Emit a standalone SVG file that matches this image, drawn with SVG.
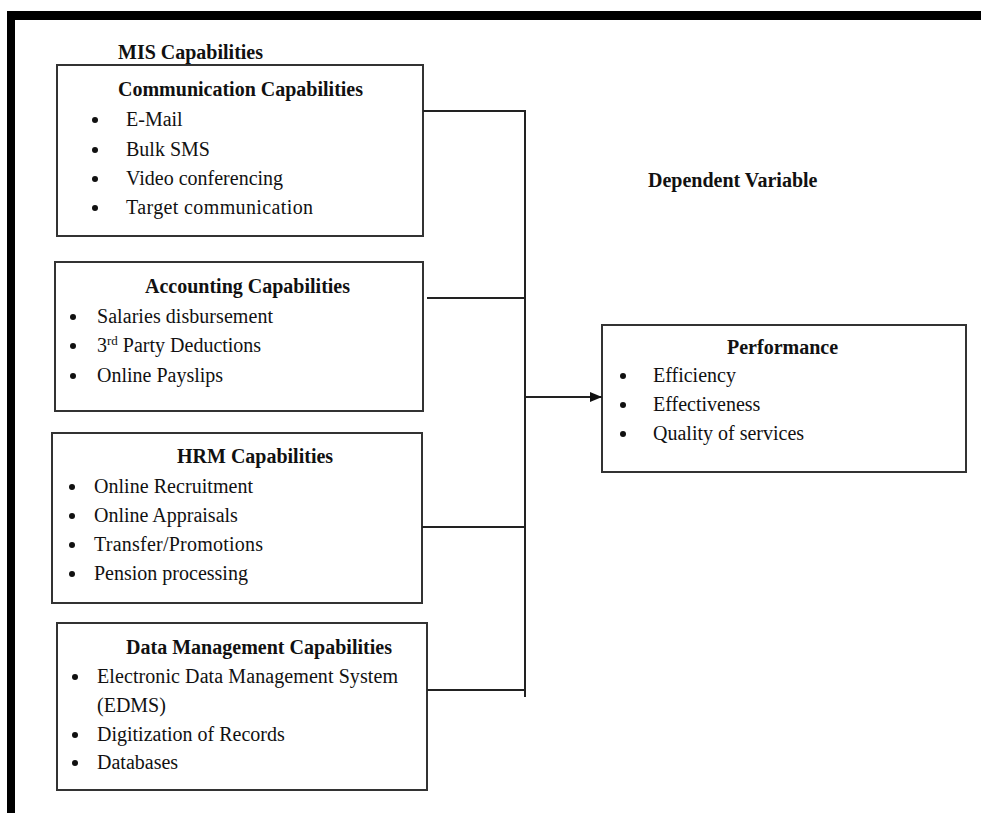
<svg xmlns="http://www.w3.org/2000/svg" width="981" height="813" viewBox="0 0 981 813">
<style>
.box{fill:#fff;stroke:#333;stroke-width:2}
.h{font-family:"Liberation Serif","Times New Roman",serif;font-weight:bold;font-size:20px;fill:#111}
.t{font-family:"Liberation Serif","Times New Roman",serif;font-size:20px;fill:#111}
.b{fill:#111}
.c{fill:none;stroke:#222;stroke-width:2}
</style>
<defs>
<marker id="arr" viewBox="0 0 12 10" refX="12" refY="5" markerWidth="12" markerHeight="10" markerUnits="userSpaceOnUse" orient="auto">
<path d="M0,0 L12,5 L0,10 Z" fill="#111"/>
</marker>
</defs>
<rect width="981" height="813" fill="#fff"/>
<rect x="7" y="11" width="974" height="9" fill="#000"/>
<rect x="7" y="11" width="8" height="802" fill="#000"/>

<text class="h" x="118" y="59">MIS Capabilities</text>
<text class="h" x="648" y="187">Dependent Variable</text>

<g id="communication">
<rect class="box" x="57" y="65" width="366" height="171"/>
<text class="h" x="118" y="96">Communication Capabilities</text>
<circle class="b" cx="95" cy="120" r="3"/>
<circle class="b" cx="95" cy="150" r="3"/>
<circle class="b" cx="95" cy="179" r="3"/>
<circle class="b" cx="95" cy="208" r="3"/>
<text class="t" x="126" y="126">E-Mail</text>
<text class="t" x="126" y="156">Bulk SMS</text>
<text class="t" x="126" y="185">Video conferencing</text>
<text class="t" x="126" y="214" textLength="187" lengthAdjust="spacing">Target communication</text>
</g>

<g id="accounting">
<rect class="box" x="55" y="262" width="368" height="149"/>
<text class="h" x="145" y="293">Accounting Capabilities</text>
<circle class="b" cx="73" cy="317" r="3"/>
<circle class="b" cx="73" cy="346" r="3"/>
<circle class="b" cx="73" cy="376" r="3"/>
<text class="t" x="97" y="323" textLength="176" lengthAdjust="spacing">Salaries disbursement</text>
<text class="t" x="97" y="352">3<tspan font-size="13" dy="-7">rd</tspan><tspan dy="7"> Party Deductions</tspan></text>
<text class="t" x="97" y="382">Online Payslips</text>
</g>

<g id="hrm">
<rect class="box" x="52" y="433" width="370" height="170"/>
<text class="h" x="177" y="463">HRM Capabilities</text>
<circle class="b" cx="72" cy="487" r="3"/>
<circle class="b" cx="72" cy="516" r="3"/>
<circle class="b" cx="72" cy="545" r="3"/>
<circle class="b" cx="72" cy="574" r="3"/>
<text class="t" x="94" y="493" textLength="159" lengthAdjust="spacing">Online Recruitment</text>
<text class="t" x="94" y="522">Online Appraisals</text>
<text class="t" x="94" y="551" textLength="169" lengthAdjust="spacing">Transfer/Promotions</text>
<text class="t" x="94" y="580">Pension processing</text>
</g>

<g id="data">
<rect class="box" x="57" y="623" width="370" height="167"/>
<text class="h" x="126" y="654" textLength="266" lengthAdjust="spacing">Data Management Capabilities</text>
<circle class="b" cx="75" cy="677" r="3"/>
<circle class="b" cx="75" cy="735" r="3"/>
<circle class="b" cx="75" cy="763" r="3"/>
<text class="t" x="97" y="683" textLength="301" lengthAdjust="spacing">Electronic Data Management System</text>
<text class="t" x="97" y="712">(EDMS)</text>
<text class="t" x="97" y="741">Digitization of Records</text>
<text class="t" x="97" y="769">Databases</text>
</g>

<g id="performance">
<rect class="box" x="602" y="325" width="364" height="147"/>
<text class="h" x="727" y="354">Performance</text>
<circle class="b" cx="623" cy="376" r="3"/>
<circle class="b" cx="623" cy="405" r="3"/>
<circle class="b" cx="623" cy="434" r="3"/>
<text class="t" x="653" y="382">Efficiency</text>
<text class="t" x="653" y="411">Effectiveness</text>
<text class="t" x="653" y="440">Quality of services</text>
</g>

<g id="connectors">
<path class="c" d="M423,111 H525 V697"/>
<path class="c" d="M427,298 H524"/>
<path class="c" d="M422,527 H525"/>
<path class="c" d="M427,690 H525"/>
<path class="c" d="M525,397 H602" marker-end="url(#arr)"/>
</g>
</svg>
